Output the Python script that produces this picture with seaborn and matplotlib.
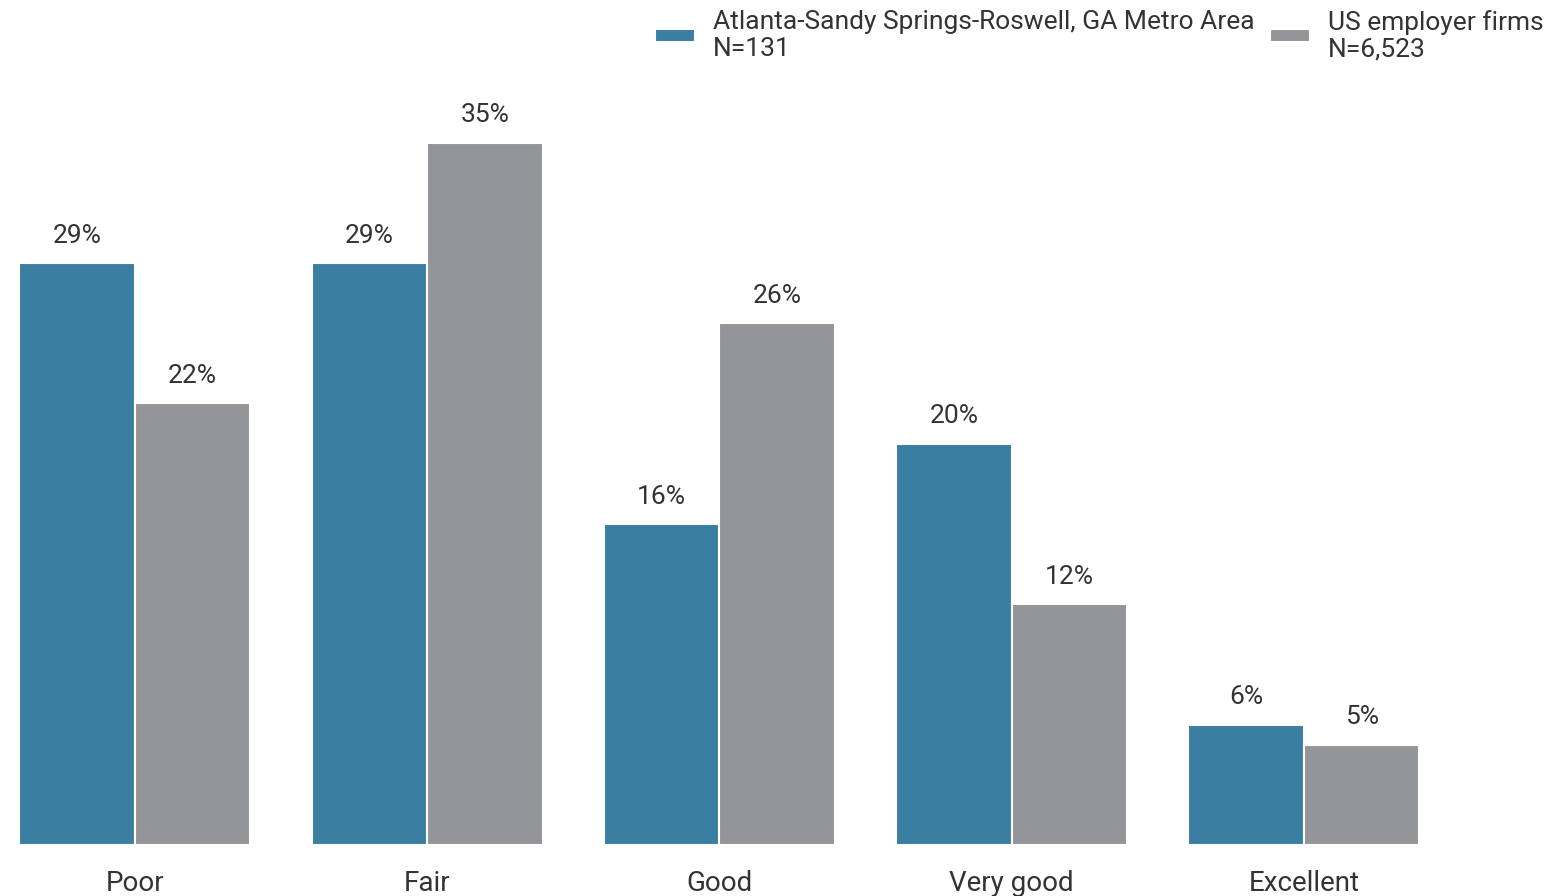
import pandas as pd
import seaborn as sns
import matplotlib.pyplot as plt

# Values
categories = ['Poor', 'Fair', 'Good', 'Very good', 'Excellent']
atlanta = [29, 29, 16, 20, 6]
us_firms = [22, 35, 26, 12, 5]
series_names = ['Atlanta-Sandy Springs-Roswell, GA Metro Area\nN=131',
                'US employer firms\nN=6,523']

df = pd.DataFrame({
    'Rating': categories * 2,
    'Share': atlanta + us_firms,
    'Group': [series_names[0]] * len(categories) + [series_names[1]] * len(categories),
})

sns.set_style('white')
plt.rcParams['font.family'] = ['Roboto', 'DejaVu Sans']
text_color = '#333333'

fig = plt.figure(figsize=(15.53, 8.96), dpi=100)
ax = fig.add_axes([0, 0.0569, 1, 0.9431])

sns.barplot(data=df, x='Rating', y='Share', hue='Group', order=categories,
            hue_order=series_names, palette=['#3A7EA1', '#939598'],
            width=0.79, edgecolor='white', linewidth=1.5, saturation=1, ax=ax)

for cont in ax.containers:
    ax.bar_label(cont, labels=[f'{v:.0f}%' for v in cont.datavalues],
                 padding=11, fontsize=19, color=text_color)

ax.set_xlim(-0.461, 4.852)
ax.set_ylim(0, 42.1)
ax.set_xlabel('')
ax.set_ylabel('')
ax.set_yticks([])
ax.tick_params(axis='x', length=0, pad=18, labelsize=20, labelcolor=text_color)
sns.despine(ax=ax, left=True, bottom=True)

leg = ax.legend(loc='upper right', bbox_to_anchor=(1546 / 1553, 1 - 7 / 896),
                bbox_transform=fig.transFigure, ncol=2, frameon=False,
                fontsize=19, handlelength=1.5, handleheight=0.4,
                handletextpad=0.68, columnspacing=0.6, borderaxespad=0,
                borderpad=0.1)
for t in leg.get_texts():
    t.set_color(text_color)
    t.set_linespacing(1.15)

fig.savefig('out.png', dpi=100)
